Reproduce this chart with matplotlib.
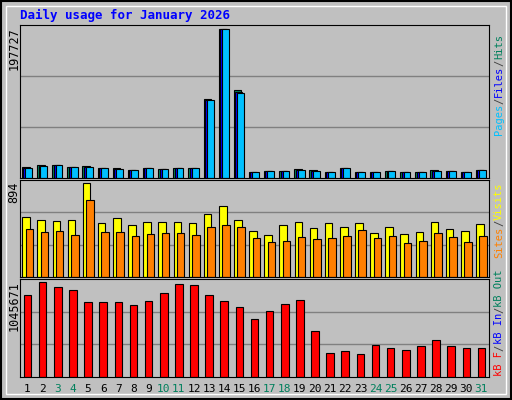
import matplotlib
matplotlib.use("Agg")
import matplotlib.pyplot as plt
import numpy as np

days = list(range(1, 32))
weekends = [3, 4, 10, 11, 17, 18, 24, 25, 31]

hits = [14000, 17500, 17500, 15000, 16500, 13800, 13800, 11000, 13800, 12400, 13800, 13800,
        104000, 197727, 116000, 8300, 9700, 9700, 12400, 11000, 8300, 13800, 8300, 8300,
        9700, 8300, 8300, 11000, 9700, 8300, 11000]
files = [13400, 16000, 17400, 14700, 14700, 13400, 12000, 10700, 13400, 12000, 13400, 13400,
         103000, 197727, 114000, 8000, 9400, 9400, 10700, 9400, 8000, 13400, 8000, 8000,
         9400, 8000, 8000, 9400, 9400, 8000, 10700]
pages = [13400, 16000, 17400, 14700, 14700, 13400, 12000, 10700, 13400, 12000, 13400, 13400,
         103000, 197727, 112000, 8000, 9400, 9400, 10700, 9400, 8000, 13400, 8000, 8000,
         9400, 8000, 8000, 9400, 9400, 8000, 10700]
visits = [574, 544, 535, 544, 894, 515, 564, 496, 525, 525, 525, 515, 603, 680, 544,
          438, 399, 496, 525, 467, 515, 477, 515, 418, 477, 408, 428, 525, 457, 438, 506]
sites = [457, 428, 438, 399, 739, 428, 428, 389, 408, 418, 418, 399, 477, 496, 477,
         369, 331, 340, 379, 360, 369, 389, 447, 369, 389, 321, 340, 418, 379, 331, 389]
kbytes = [908000, 1045671, 999000, 965000, 827000, 827000, 827000, 793000, 839000, 931000,
          1022000, 1011000, 908000, 839000, 770000, 643000, 724000, 804000, 850000, 505000,
          264000, 287000, 253000, 356000, 322000, 299000, 345000, 414000, 345000, 322000, 322000]

BG = "#c0c0c0"
fig = plt.figure(figsize=(5.12, 4.0), dpi=100, facecolor=BG)
mono = "DejaVu Sans Mono"
W, H = 512.0, 400.0

def add_panel(top, bottom):
    ax = fig.add_axes([20 / W, 1 - bottom / H, 469 / W, (bottom - top) / H])
    ax.set_facecolor(BG)
    ax.set_xlim(0.5, 31.5)
    ax.set_xticks([])
    ax.set_yticks([])
    for s in ax.spines.values():
        s.set_color("black")
    return ax

x = np.array(days)

ax1 = add_panel(25, 178)
ax1.set_ylim(0, max(hits) * 1.025)
for g in (1 / 3, 2 / 3):
    ax1.axhline(max(hits) * 1.025 * g, color="#808080", lw=1, zorder=0)
ax1.bar(x - 0.12, hits, 0.5, color="#00805c", edgecolor="black", lw=0.8)
ax1.bar(x - 0.05, files, 0.45, color="#0000ff", edgecolor="black", lw=0.8)
ax1.bar(x + 0.08, pages, 0.45, color="#00c0ff", edgecolor="black", lw=0.8)

ax2 = add_panel(180, 277)
ax2.set_ylim(0, max(visits) * 1.035)
for g in (1 / 3, 2 / 3):
    ax2.axhline(max(visits) * 1.035 * g, color="#808080", lw=1, zorder=0)
ax2.bar(x - 0.1, visits, 0.5, color="#ffff00", edgecolor="black", lw=0.8)
ax2.bar(x + 0.12, sites, 0.5, color="#ff8000", edgecolor="black", lw=0.8)

ax3 = add_panel(279, 377)
ax3.set_ylim(0, max(kbytes) * 1.035)
for g in (1 / 3, 2 / 3):
    ax3.axhline(max(kbytes) * 1.035 * g, color="#808080", lw=1, zorder=0)
ax3.bar(x, kbytes, 0.5, color="#ff0000", edgecolor="black", lw=0.8)

# x labels
for d in days:
    fx = (20 + (d - 0.5) / 31 * 469) / W
    fig.text(fx, 1 - 389 / H, str(d), ha="center", va="center", family=mono, fontsize=8,
             color="#00805c" if d in weekends else "black")

fig.text(20 / W, 1 - 15 / H, "Daily usage for January 2026", family=mono,
         fontweight="bold", fontsize=9, color="#0000ff", va="center")

for val, ytop in ((max(hits), 25), (max(visits), 180), (max(kbytes), 279)):
    fig.text(14 / W, 1 - (ytop + 2) / H, str(val), rotation=90, ha="center", va="top",
             family=mono, fontsize=8.5)

def vlabel(parts, ybottom):
    y = ybottom
    step = 6.3
    for txt, col in parts:
        fig.text(499 / W, 1 - y / H, txt, rotation=90, ha="center", va="bottom",
                 family=mono, fontsize=7.5, color=col)
        y -= step * len(txt)

sep = ("/", "#404040")
vlabel([("Pages", "#00c0ff"), sep, ("Files", "#0000ff"), sep, ("Hits", "#00805c")], 135)
vlabel([("Sites", "#ff8000"), sep, ("Visits", "#ffff00")], 258)
vlabel([("kB F", "#ff0000"), sep, ("kB In", "#0000ff"), sep, ("kB Out", "#00805c")], 376)

# frame
fig.patches.append(plt.Rectangle((1 / W, 1 / H), 510 / W, 398 / H, transform=fig.transFigure,
                                 fill=False, edgecolor="black", lw=1.5))
fig.patches.append(plt.Rectangle((6 / W, 6 / H), 500 / W, 388 / H, transform=fig.transFigure,
                                 fill=False, edgecolor="white", lw=1))

fig.savefig("out.png", dpi=100, facecolor=BG)
